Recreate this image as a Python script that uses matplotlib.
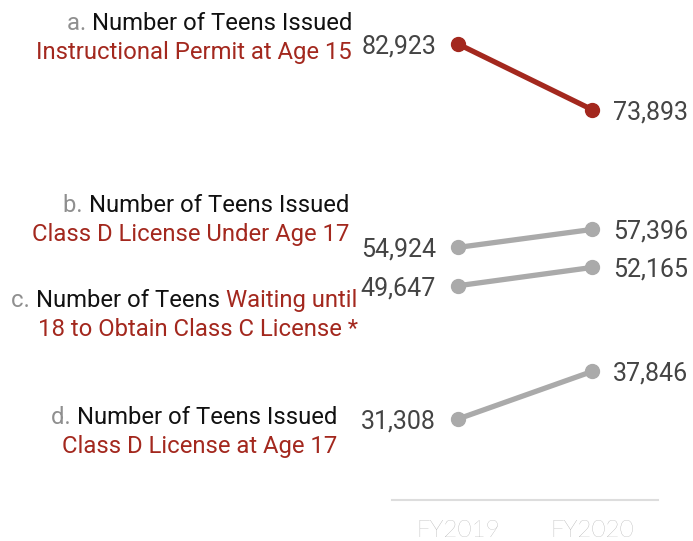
import matplotlib
matplotlib.use('Agg')
import matplotlib.pyplot as plt

years = ['FY2019', 'FY2020']
permit15 = [82923, 73893]
licenseUnder17 = [54924, 57396]
waitingUntil18 = [49647, 52165]
licenseAt17 = [31308, 37846]

seriesValues = [permit15, licenseUnder17, waitingUntil18, licenseAt17]
seriesColors = ['#a3281e', '#aaaaaa', '#aaaaaa', '#aaaaaa']

RED = '#a3281e'
GRAY = '#8f8f8f'
BLACK = '#111111'
VALUE = '#444444'

# label lines: (segments, right edge px, baseline px)
labelLines = [
    ([('a. ', GRAY), ('Number of Teens Issued', BLACK)], 352, 30),
    ([('Instructional Permit at Age 15', RED)], 352, 59),
    ([('b. ', GRAY), ('Number of Teens Issued', BLACK)], 349, 212),
    ([('Class D License Under Age 17', RED)], 349, 241),
    ([('c. ', GRAY), ('Number of Teens ', BLACK), ('Waiting until', RED)], 357, 307),
    ([('18 to Obtain Class C License *', RED)], 358, 336),
    ([('d. ', GRAY), ('Number of Teens Issued', BLACK)], 337, 424),
    ([('Class D License at Age 17', RED)], 337, 453),
]

W, H = 693, 541
fig = plt.figure(figsize=(W / 100, H / 100), dpi=100)
ax = fig.add_axes([0, 0, 1, 1])
ax.set_xlim(-3.418, -3.418 + W / 134.0)
ax.set_ylim(14513, 88979)
ax.axis('off')

for vals, col in zip(seriesValues, seriesColors):
    ax.plot([0, 1], vals, color=col, lw=3.8, marker='o', ms=10,
            solid_capstyle='round', zorder=3)
    ax.annotate('{:,}'.format(vals[0]), (0, vals[0]), xytext=(-22, 0),
                textcoords='offset pixels', ha='right', va='center_baseline',
                fontsize=18, family='Roboto', color=VALUE)
    ax.annotate('{:,}'.format(vals[1]), (1, vals[1]), xytext=(21, 0),
                textcoords='offset pixels', ha='left', va='center_baseline',
                fontsize=18, family='Roboto', color=VALUE)

# bottom axis line and year labels
fig.add_artist(plt.Line2D([392 / W, 658 / W], [1 - 500 / H, 1 - 500 / H],
                          color='#dddddd', lw=1.5))
for i, yr in enumerate(years):
    ax.text(i, 1 - 537 / H, yr, transform=ax.get_xaxis_transform(),
            ha='center', va='baseline', fontsize=17.5, family='Lato',
            fontweight='light', color='#999999')

fig.canvas.draw()
renderer = fig.canvas.get_renderer()
for segs, right, base in labelLines:
    x = right
    for txt, col in reversed(segs):
        t = fig.text(x / W, 1 - base / H, txt, ha='right', va='baseline',
                     fontsize=17.2, family='Roboto', color=col)
        bb = t.get_window_extent(renderer)
        x = x - bb.width

fig.savefig('out.png', dpi=100)
